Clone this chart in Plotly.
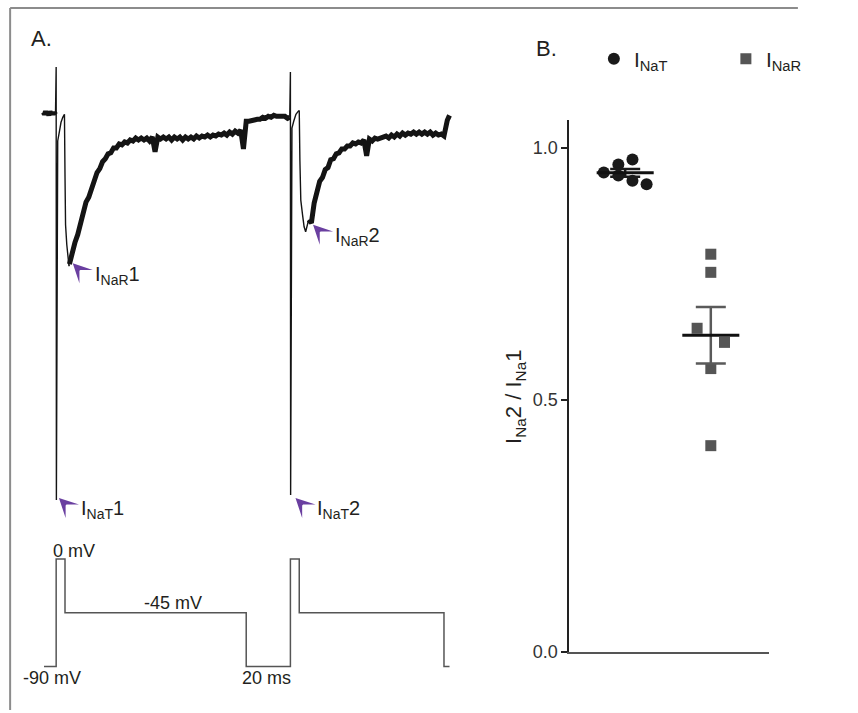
import plotly.graph_objects as go

W, H = 858, 713
FONT = "Liberation Sans, Arial, sans-serif"
TXT = "#231f20"
PURPLE = "#6a3fa0"

# ---------------- Panel A data: current trace (t in ms, I in nA) ----------------
pre1_t = [-5.8, -5.3, -4.8, -4.3, -3.8, -3.3, -2.8, -2.3, -1.8, -1.3, -0.8, -0.3]
pre1_i = [0.04, 0.02, 0.05, 0.02, 0.04, 0.01, 0.05, 0.02, 0.04, 0.02, 0.04, 0.02]

spike1_t = [0.0, 0.1, 0.7, 1.5, 2.2, 3.0, 3.75, 4.0, 4.25, 4.8, 5.3, 5.8]
spike1_i = [0.50, -3.89, -0.25, -0.15, -0.06, -0.01, 0.02, -0.60, -1.10, -1.30, -1.45, -1.52]

recov1_t = [6.0, 7.25, 8.5, 9.75, 11.0, 12.25, 13.5, 14.75, 16.0, 17.25,
            18.5, 19.75, 21.0, 22.25, 23.5, 24.75, 26.0, 27.25, 28.5, 29.75,
            31.0, 32.25, 33.5, 34.75, 36.0, 37.25, 38.5, 39.75, 41.0, 42.25,
            43.5, 44.75, 46.0, 47.25, 48.5, 49.75, 51.0, 52.25, 53.5, 54.75,
            56.0, 57.25, 58.5, 59.75, 61.0, 62.25, 63.5, 64.75, 66.0, 67.25,
            68.5, 69.75, 71.0, 72.25, 73.5, 74.75, 76.0, 77.25, 78.5, 79.75,
            81.0, 82.25, 83.5, 84.75]
recov1_i = [-1.50, -1.38, -1.28, -1.20, -1.08, -0.98, -0.87, -0.82, -0.73, -0.66,
            -0.57, -0.53, -0.46, -0.43, -0.38, -0.37, -0.32, -0.32, -0.28, -0.29,
            -0.26, -0.27, -0.24, -0.25, -0.22, -0.24, -0.22, -0.24, -0.22, -0.25,
            -0.21, -0.36, -0.21, -0.23, -0.21, -0.23, -0.21, -0.24, -0.21, -0.23,
            -0.21, -0.24, -0.21, -0.23, -0.21, -0.23, -0.20, -0.22, -0.20, -0.21,
            -0.19, -0.21, -0.19, -0.20, -0.18, -0.19, -0.17, -0.19, -0.16, -0.18,
            -0.15, -0.17, -0.14, -0.33]

gap_t = [85.5, 86.0, 87.25, 88.5, 89.75, 91.0, 92.25, 93.5, 94.75, 96.0, 97.25,
         98.5, 99.75, 101.0, 102.25, 103.5, 104.75, 105.7]
gap_i = [-0.15, -0.05, -0.05, -0.04, -0.04, -0.03, -0.03, -0.01, -0.02, 0.00, -0.01,
         0.01, 0.00, 0.00, -0.01, 0.00, -0.02, -0.01]

spike2_t = [106.0, 106.1, 106.7, 107.5, 108.5, 109.5, 110.0, 110.3, 110.7, 111.5, 112.2, 112.9]
spike2_i = [0.45, -3.84, -0.12, -0.05, 0.02, 0.05, 0.06, -0.45, -0.85, -1.00, -1.12, -1.17]

recov2_t = [114.25, 115.5, 116.75, 118.0, 119.25, 120.5, 121.75, 123.0, 124.25, 125.5,
            126.75, 128.0, 129.25, 130.5, 131.75, 133.0, 134.25, 135.5, 136.75, 138.0,
            139.25, 140.5, 141.75, 143.0, 144.25, 145.5, 146.75, 148.0, 149.25, 150.5,
            151.75, 153.0, 154.25, 155.5, 156.75, 158.0, 159.25, 160.5, 161.75, 163.0,
            164.25, 165.5, 166.75, 168.0, 169.25, 170.5, 171.75, 173.0, 174.25, 175.5,
            176.0, 177.0, 178.0]
recov2_i = [-1.05, -1.08, -0.88, -0.76, -0.66, -0.62, -0.54, -0.52, -0.44, -0.43,
            -0.38, -0.37, -0.33, -0.33, -0.30, -0.30, -0.27, -0.28, -0.26, -0.27,
            -0.24, -0.40, -0.23, -0.25, -0.22, -0.23, -0.22, -0.22, -0.20, -0.22,
            -0.19, -0.21, -0.18, -0.20, -0.17, -0.19, -0.17, -0.18, -0.16, -0.18,
            -0.16, -0.18, -0.16, -0.18, -0.16, -0.19, -0.17, -0.19, -0.18, -0.20,
            -0.12, -0.04, 0.01]

# voltage protocol (mV), step times (ms)
stim_t = [-5.5, 0, 4, 86, 106, 110, 175.5, 178]
stim_v = [-90, 0, -45, -90, 0, -45, -90, -90]

# peak markers: arrow tip (t, I) and labels
peak_t = [7.5, 116.25, 1.25, 108.3]
peak_i = [-1.49, -1.10, -3.87, -3.87]
peak_labels = ["I<sub>NaR</sub>1", "I<sub>NaR</sub>2", "I<sub>NaT</sub>1", "I<sub>NaT</sub>2"]

# ---------------- Panel B data ----------------
categories = ["I<sub>NaT</sub>", "I<sub>NaR</sub>"]
nat_ratio = [0.951, 0.967, 0.945, 0.977, 0.935, 0.928]
nar_ratio = [0.789, 0.753, 0.642, 0.614, 0.562, 0.409]

# ---------------- layout helpers (pixel geometry) ----------------
def fx(px):
    return px / W

def fy(py):
    return 1 - py / H

PX_PER_MS, T0_PX = 2.4, 61.0
PX_PER_NA, I0_PY = 100.0, 118.0
PX_PER_MV, V0_PY = 109.0 / 90.0, 567.0
A_X = (30, 500)
A_Y = (55, 540)
V_Y = (545, 700)

B_X = (618, 835)
B_Y = (122, 661)
B_CAT_PX = (679, 772)
B_PX_PER_UNIT = 511.0

swarm_T = [-0.25, -0.08, -0.08, 0.085, 0.085, 0.25]
swarm_R = [0.0, 0.0, -0.16, 0.16, 0.0, 0.0]

fig = go.Figure()

def line_seg(t, i, w):
    fig.add_trace(go.Scatter(x=t, y=i, mode="lines", xaxis="x", yaxis="y",
                             line=dict(color="#141414", width=w), showlegend=False,
                             hoverinfo="skip"))

THICK, THIN = 5.0, 1.4
line_seg(pre1_t, pre1_i, THICK)
line_seg(pre1_t[-1:] + spike1_t + recov1_t[:1], pre1_i[-1:] + spike1_i + recov1_i[:1], THIN)
line_seg(recov1_t + gap_t, recov1_i + gap_i, THICK)
line_seg(gap_t[-1:] + spike2_t + recov2_t[:1], gap_i[-1:] + spike2_i + recov2_i[:1], THIN)
line_seg(recov2_t, recov2_i, THICK)

# voltage protocol
fig.add_trace(go.Scatter(x=stim_t, y=stim_v, mode="lines", xaxis="x", yaxis="y3",
                         line=dict(color="#555555", width=1.5, shape="hv"),
                         showlegend=False, hoverinfo="skip"))

# ---------------- Panel B ----------------
mean_T = sum(nat_ratio) / len(nat_ratio)
mean_R = sum(nar_ratio) / len(nar_ratio)

def sem(v, m):
    n = len(v)
    return (sum((a - m) ** 2 for a in v) / (n - 1)) ** 0.5 / n ** 0.5

sem_T, sem_R = sem(nat_ratio, mean_T), sem(nar_ratio, mean_R)

fig.add_trace(go.Scatter(x=[0 + o for o in swarm_T], y=nat_ratio, mode="markers",
                         xaxis="x2", yaxis="y2", name=categories[0],
                         marker=dict(symbol="circle", size=12, color="#1a1a1a"),
                         cliponaxis=False))
fig.add_trace(go.Scatter(x=[1 + o for o in swarm_R], y=nar_ratio, mode="markers",
                         xaxis="x2", yaxis="y2", name=categories[1],
                         marker=dict(symbol="square", size=11, color="#555555"),
                         cliponaxis=False))
for xc, m, s, col in [(0, mean_T, sem_T, "#1a1a1a"), (1, mean_R, sem_R, "#5a5a5a")]:
    fig.add_trace(go.Scatter(x=[xc], y=[m], mode="markers", xaxis="x2", yaxis="y2",
                             marker=dict(size=1, color="rgba(0,0,0,0)"),
                             error_y=dict(type="data", array=[s], color=col,
                                          thickness=2.5, width=15),
                             showlegend=False, hoverinfo="skip"))
    fig.add_trace(go.Scatter(x=[xc - 0.333, xc + 0.333], y=[m, m], mode="lines",
                             xaxis="x2", yaxis="y2", line=dict(color="#111111", width=3),
                             showlegend=False, hoverinfo="skip"))

# ---------------- axes ----------------
xA_range = [(A_X[0] - T0_PX) / PX_PER_MS, (A_X[1] - T0_PX) / PX_PER_MS]
yA_range = [-(A_Y[1] - I0_PY) / PX_PER_NA, -(A_Y[0] - I0_PY) / PX_PER_NA]
v_range = [-(V_Y[1] - V0_PY) / PX_PER_MV, -(V_Y[0] - V0_PY) / PX_PER_MV]

cat_sp = B_CAT_PX[1] - B_CAT_PX[0]
xB_range = [(B_X[0] - B_CAT_PX[0]) / cat_sp, 1 + (B_X[1] - B_CAT_PX[1]) / cat_sp]
yB_range = [0, (B_Y[1] - B_Y[0]) / B_PX_PER_UNIT]

ann = []
for t, i, lab in zip(peak_t, peak_i, peak_labels):
    # purple barbed arrowhead pointing up-left at the peak
    ann.append(dict(x=t, y=i, xref="x", yref="y", text="", showarrow=True,
                    ax=7, ay=7, arrowhead=3, arrowsize=2.1, arrowwidth=1.5,
                    arrowcolor=PURPLE, standoff=0))
    ann.append(dict(x=t, y=i, xref="x", yref="y", text=lab, showarrow=False,
                    xanchor="left", yanchor="middle", xshift=20, yshift=-12,
                    font=dict(size=20, color=TXT, family=FONT)))
volt = [
    dict(x=-2.5, y=0, xref="x", yref="y3", text="0 mV", xanchor="left", yanchor="bottom", yshift=-4),
    dict(x=52.7, y=-45, xref="x", yref="y3", text="-45 mV", xanchor="center", yanchor="bottom", yshift=-2),
    dict(x=-1.7, y=-90, xref="x", yref="y3", text="-90 mV", xanchor="center", yanchor="top", yshift=1),
    dict(x=95.2, y=-90, xref="x", yref="y3", text="20 ms", xanchor="center", yanchor="top", yshift=1),
]
for a in volt:
    a.update(showarrow=False, font=dict(size=18, color=TXT, family=FONT))
ann += volt
ann += [
    dict(x=fx(32), y=fy(39), xref="paper", yref="paper", text="A.", showarrow=False,
         xanchor="left", yanchor="middle", font=dict(size=22, color=TXT, family=FONT)),
    dict(x=fx(580), y=fy(49), xref="paper", yref="paper", text="B.", showarrow=False,
         xanchor="left", yanchor="middle", font=dict(size=22, color=TXT, family=FONT)),
    # y-axis title of panel B
    dict(x=fx(560), y=fy(403), xref="paper", yref="paper",
         text="I<sub>Na</sub>2 / I<sub>Na</sub>1", showarrow=False, textangle=-90,
         xanchor="center", yanchor="middle", font=dict(size=22, color=TXT, family=FONT)),
]

frame = dict(color="#8c8c8c", width=2)
shapes = [
    dict(type="line", xref="paper", yref="paper", x0=fx(11), y0=fy(8), x1=1.01, y1=fy(8), line=frame),
    dict(type="line", xref="paper", yref="paper", x0=fx(11), y0=fy(8), x1=fx(11), y1=-0.01, line=frame),
]

fig.update_layout(
    width=W, height=H, autosize=False,
    margin=dict(l=0, r=0, t=0, b=0),
    paper_bgcolor="white", plot_bgcolor="rgba(0,0,0,0)",
    font=dict(family=FONT, color=TXT, size=18),
    xaxis=dict(domain=[fx(A_X[0]), fx(A_X[1])], range=xA_range, visible=False),
    yaxis=dict(domain=[fy(A_Y[1]), fy(A_Y[0])], range=yA_range, visible=False, anchor="x"),
    yaxis3=dict(domain=[fy(V_Y[1]), fy(V_Y[0])], range=v_range, visible=False, anchor="x"),
    xaxis2=dict(domain=[fx(B_X[0]), fx(B_X[1])], range=xB_range, anchor="y2",
                showline=True, linecolor="#555555", linewidth=2, showticklabels=False,
                ticks="", showgrid=False, zeroline=False),
    yaxis2=dict(domain=[fy(B_Y[1]), fy(B_Y[0])], range=yB_range, anchor="x2",
                showline=True, linecolor="#222222", linewidth=1.5,
                ticks="outside", ticklen=6, tickwidth=1.5, tickcolor="#222222",
                tickvals=[0, 0.5, 1.0], tickformat=".1f",
                tickfont=dict(size=18, color="#333333", family=FONT),
                showgrid=False, zeroline=False),
    legend=dict(orientation="h", x=fx(645), y=fy(60), xanchor="left", yanchor="middle",
                font=dict(size=21, color=TXT, family=FONT), bgcolor="rgba(0,0,0,0)",
                entrywidth=87, entrywidthmode="pixels"),
    annotations=ann,
    shapes=shapes,
)

fig.write_html("out.html")
